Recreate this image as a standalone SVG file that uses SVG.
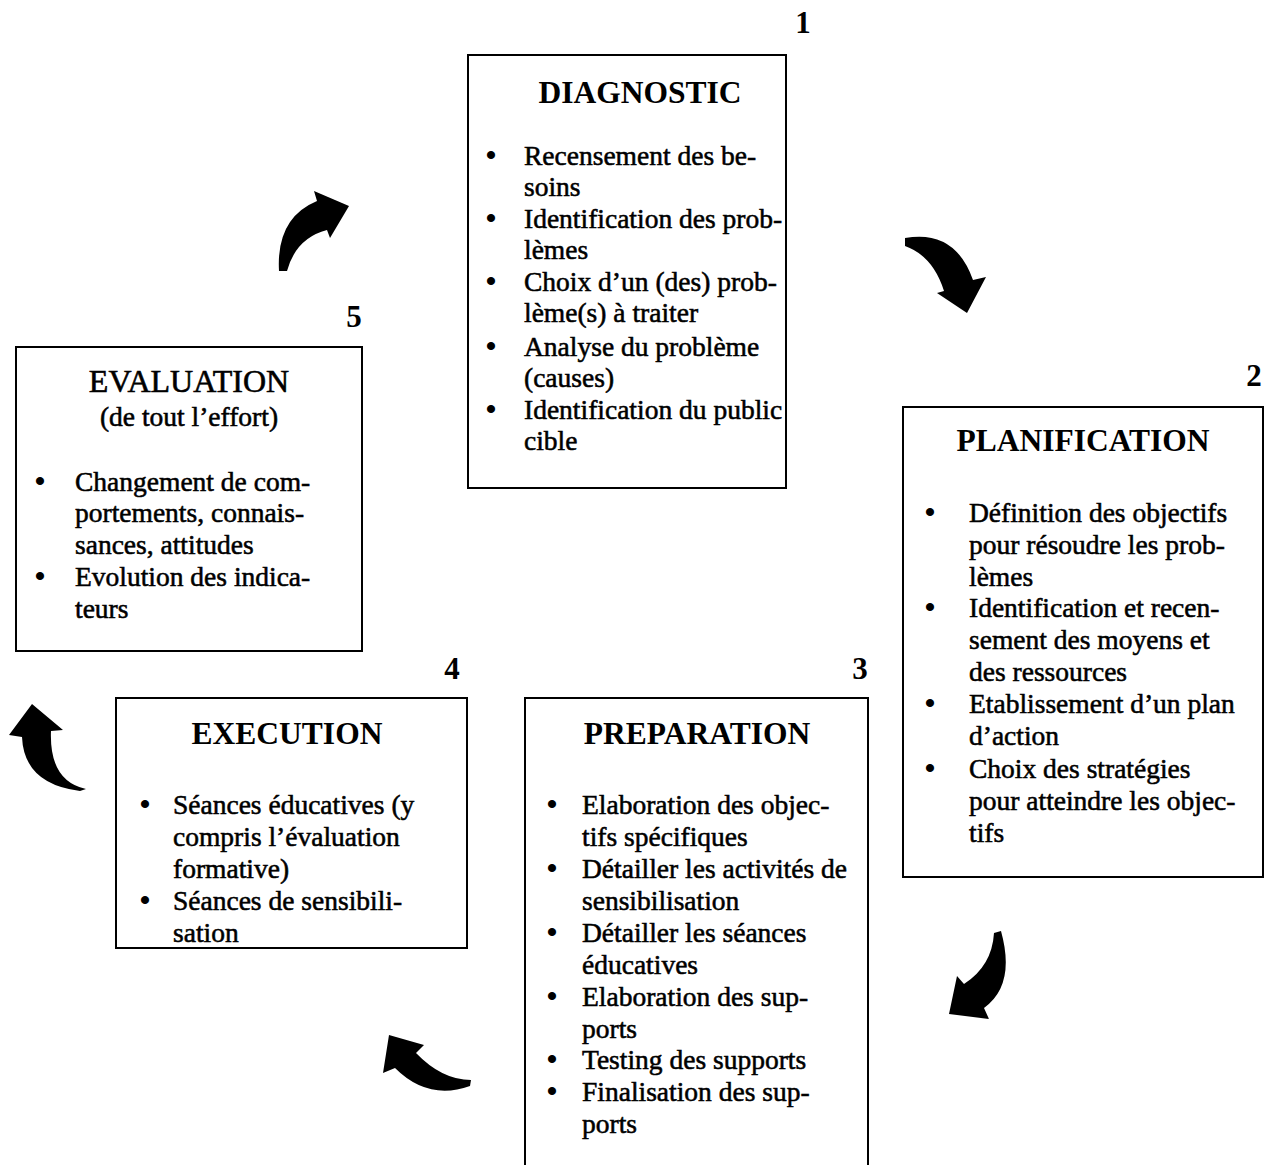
<svg xmlns="http://www.w3.org/2000/svg" width="1265" height="1165" viewBox="0 0 1265 1165">
<style>
.box{fill:#fff;stroke:#000;stroke-width:2}
.t{font-family:"Liberation Serif","Times New Roman",serif;font-size:31.5px;font-weight:bold;text-anchor:middle;fill:#000}
.n{font-family:"Liberation Serif","Times New Roman",serif;font-size:31px;font-weight:bold;text-anchor:middle;fill:#000}
.b{font-family:"Liberation Serif","Times New Roman",serif;font-size:27.5px;fill:#000;stroke:#000;stroke-width:0.55}
.d{font-family:"Liberation Serif","Times New Roman",serif;font-size:30px;font-weight:bold;fill:#000;text-anchor:middle}
.arr{fill:#000}
</style>
<rect width="1265" height="1165" fill="#fff"/>
<g id="connectors">
<path class="arr" d="M 279 271 Q 276 218 317 201 L 314 191 L 349 206 L 330 238 L 327 230 Q 296 238 287 271 Z"/>
<path class="arr" d="M 905 238 Q 955 229 973 280 L 986 277 L 967 313 L 937 293 L 944 291 Q 933 256 905 246 Z"/>
<path class="arr" d="M 994 933 L 1001 931 Q 1016 985 984 1008 L 989 1019 L 949 1014 L 957 976 L 964 984 Q 992 966 994 933 Z"/>
<path class="arr" d="M 471 1080 L 470 1086 Q 428 1101 395 1068 L 383 1073 L 389 1035 L 424 1045 L 416 1053 Q 442 1080 471 1080 Z"/>
<path class="arr" d="M 86 789 Q 49 781 51 731 L 63 730 L 32 704 L 9 735 L 22 737 Q 24 784 80 791 Z"/>
</g>
<g id="diagnostic">
<rect class="box" x="468" y="55" width="318" height="433"/>
<text class="n" x="803" y="33">1</text>
<text class="t" x="640" y="103">DIAGNOSTIC</text>
<text class="d" x="491" y="165">•</text>
<text class="d" x="491" y="228">•</text>
<text class="d" x="491" y="291">•</text>
<text class="d" x="491" y="356">•</text>
<text class="d" x="491" y="419">•</text>
<text class="b" x="524" y="165">Recensement des be-</text>
<text class="b" x="524" y="196">soins</text>
<text class="b" x="524" y="228">Identification des prob-</text>
<text class="b" x="524" y="259">lèmes</text>
<text class="b" x="524" y="291">Choix d’un (des) prob-</text>
<text class="b" x="524" y="322">lème(s) à traiter</text>
<text class="b" x="524" y="356">Analyse du problème</text>
<text class="b" x="524" y="387">(causes)</text>
<text class="b" x="524" y="419">Identification du public</text>
<text class="b" x="524" y="450">cible</text>
</g>
<g id="planification">
<rect class="box" x="903" y="407" width="360" height="470"/>
<text class="n" x="1254" y="386">2</text>
<text class="t" x="1083" y="451">PLANIFICATION</text>
<text class="d" x="930" y="522">•</text>
<text class="d" x="930" y="617">•</text>
<text class="d" x="930" y="713">•</text>
<text class="d" x="930" y="778">•</text>
<text class="b" x="969" y="522">Définition des objectifs</text>
<text class="b" x="969" y="554">pour résoudre les prob-</text>
<text class="b" x="969" y="586">lèmes</text>
<text class="b" x="969" y="617">Identification et recen-</text>
<text class="b" x="969" y="649">sement des moyens et</text>
<text class="b" x="969" y="681">des ressources</text>
<text class="b" x="969" y="713">Etablissement d’un plan</text>
<text class="b" x="969" y="745">d’action</text>
<text class="b" x="969" y="778">Choix des stratégies</text>
<text class="b" x="969" y="810">pour atteindre les objec-</text>
<text class="b" x="969" y="842">tifs</text>
</g>
<g id="preparation">
<rect class="box" x="525" y="698" width="343" height="480"/>
<text class="n" x="860" y="679">3</text>
<text class="t" x="697" y="744">PREPARATION</text>
<text class="d" x="552" y="814">•</text>
<text class="d" x="552" y="878">•</text>
<text class="d" x="552" y="942">•</text>
<text class="d" x="552" y="1006">•</text>
<text class="d" x="552" y="1069">•</text>
<text class="d" x="552" y="1101">•</text>
<text class="b" x="582" y="814">Elaboration des objec-</text>
<text class="b" x="582" y="846">tifs spécifiques</text>
<text class="b" x="582" y="878">Détailler les activités de</text>
<text class="b" x="582" y="910">sensibilisation</text>
<text class="b" x="582" y="942">Détailler les séances</text>
<text class="b" x="582" y="974">éducatives</text>
<text class="b" x="582" y="1006">Elaboration des sup-</text>
<text class="b" x="582" y="1038">ports</text>
<text class="b" x="582" y="1069">Testing des supports</text>
<text class="b" x="582" y="1101">Finalisation des sup-</text>
<text class="b" x="582" y="1133">ports</text>
</g>
<g id="execution">
<rect class="box" x="116" y="698" width="351" height="250"/>
<text class="n" x="452" y="679">4</text>
<text class="t" x="287" y="744">EXECUTION</text>
<text class="d" x="145" y="814">•</text>
<text class="d" x="145" y="910">•</text>
<text class="b" x="173" y="814">Séances éducatives (y</text>
<text class="b" x="173" y="846">compris l’évaluation</text>
<text class="b" x="173" y="878">formative)</text>
<text class="b" x="173" y="910">Séances de sensibili-</text>
<text class="b" x="173" y="942">sation</text>
</g>
<g id="evaluation">
<rect class="box" x="16" y="347" width="346" height="304"/>
<text class="n" x="354" y="327">5</text>
<text class="t" x="189" y="392" style="font-weight:normal;font-size:32px;stroke:#000;stroke-width:0.6">EVALUATION</text>
<text class="b" x="189" y="426" style="text-anchor:middle">(de tout l’effort)</text>
<text class="d" x="40" y="491">•</text>
<text class="d" x="40" y="586">•</text>
<text class="b" x="75" y="491">Changement de com-</text>
<text class="b" x="75" y="522">portements, connais-</text>
<text class="b" x="75" y="554">sances, attitudes</text>
<text class="b" x="75" y="586">Evolution des indica-</text>
<text class="b" x="75" y="618">teurs</text>
</g>
</svg>
